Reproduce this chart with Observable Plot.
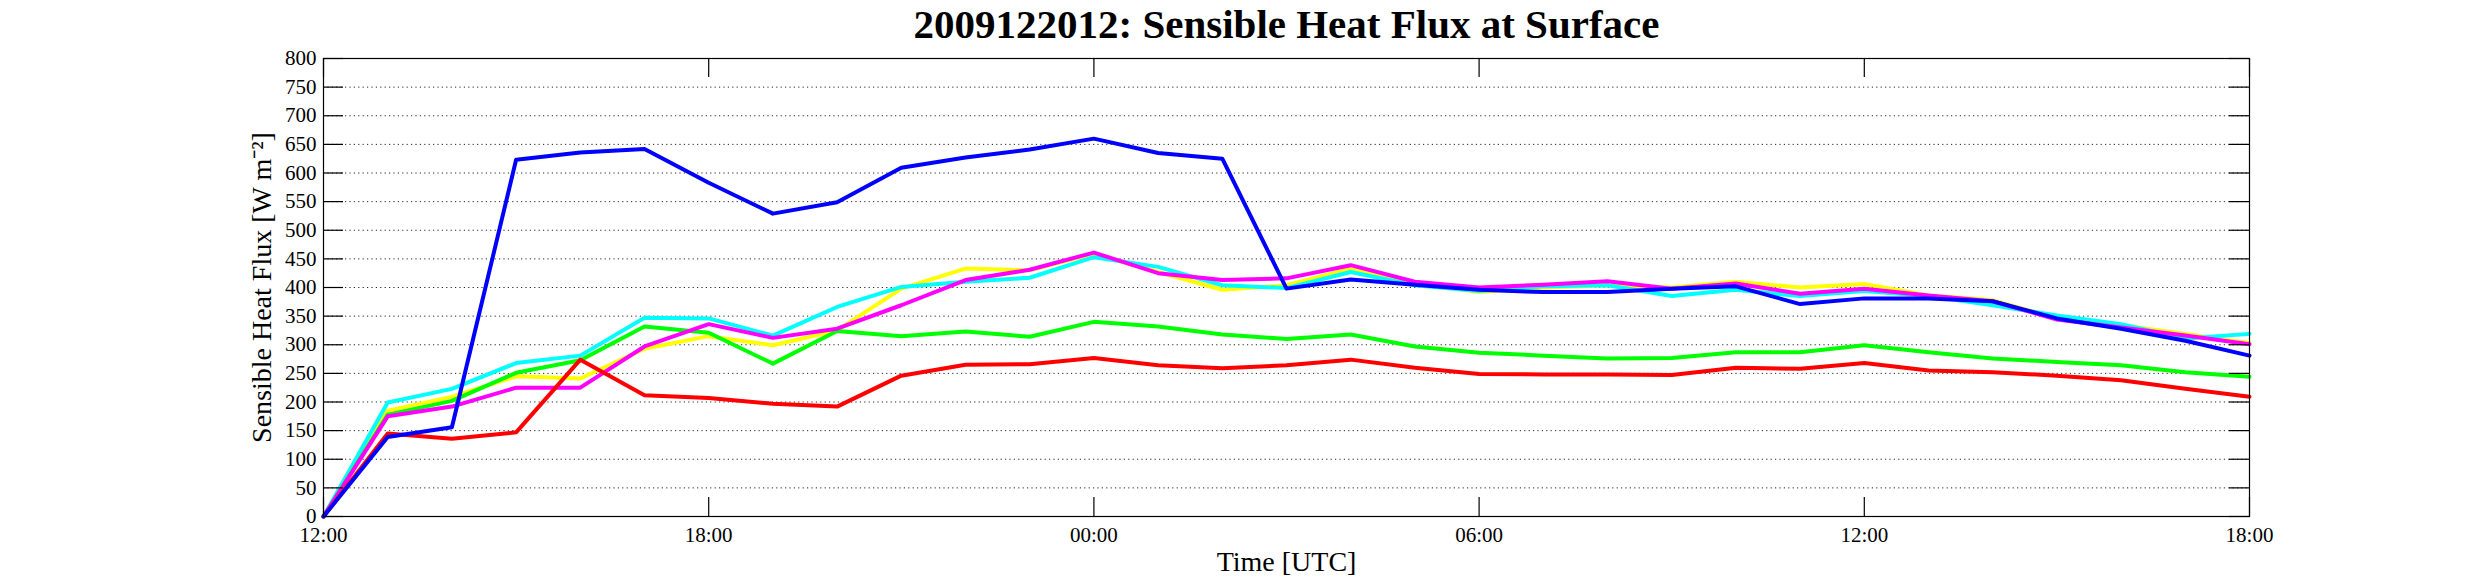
<!DOCTYPE html>
<html>
<head>
<meta charset="utf-8">
<script src="https://cdn.jsdelivr.net/npm/d3@7"></script>
<script src="https://cdn.jsdelivr.net/npm/@observablehq/plot@0.6"></script>
<style>
html, body { margin: 0; padding: 0; background: #fff; }
#chart svg { display: block; }
</style>
</head>
<body>
<div id="chart"></div>
<script>
// ---- data ----
const titleText = "2009122012: Sensible Heat Flux at Surface";
const xLabel = "Time [UTC]";
const yLabel = "Sensible Heat Flux [W m⁻²]";

const times = [
  "2009-12-20T12:00Z","2009-12-20T13:00Z","2009-12-20T14:00Z","2009-12-20T15:00Z",
  "2009-12-20T16:00Z","2009-12-20T17:00Z","2009-12-20T18:00Z","2009-12-20T19:00Z",
  "2009-12-20T20:00Z","2009-12-20T21:00Z","2009-12-20T22:00Z","2009-12-20T23:00Z",
  "2009-12-21T00:00Z","2009-12-21T01:00Z","2009-12-21T02:00Z","2009-12-21T03:00Z",
  "2009-12-21T04:00Z","2009-12-21T05:00Z","2009-12-21T06:00Z","2009-12-21T07:00Z",
  "2009-12-21T08:00Z","2009-12-21T09:00Z","2009-12-21T10:00Z","2009-12-21T11:00Z",
  "2009-12-21T12:00Z","2009-12-21T13:00Z","2009-12-21T14:00Z","2009-12-21T15:00Z",
  "2009-12-21T16:00Z","2009-12-21T17:00Z","2009-12-21T18:00Z"
];
const xTickTimes = [
  "2009-12-20T12:00Z","2009-12-20T18:00Z","2009-12-21T00:00Z",
  "2009-12-21T06:00Z","2009-12-21T12:00Z","2009-12-21T18:00Z"
];
const yTicks = [0,50,100,150,200,250,300,350,400,450,500,550,600,650,700,750,800];

const yellowVals  = [0,185,209,245,241,293,315,299,325,398,433,430,459,427,396,404,433,407,392,400,404,400,410,400,406,386,378,346,334,319,303];
const cyanVals    = [0,199,223,268,281,347,346,316,366,401,410,417,453,436,404,399,427,404,394,402,404,385,396,385,394,385,369,351,336,311,319];
const greenVals   = [0,178,202,251,273,332,321,267,324,315,323,314,340,332,318,310,318,297,286,281,276,277,287,287,299,287,276,270,264,252,244];
const magentaVals = [0,175,192,225,225,297,336,312,328,369,413,431,461,425,413,416,439,410,400,405,411,398,407,389,398,386,376,344,330,316,301];
const redVals     = [0,145,136,147,274,212,207,197,192,246,265,266,277,264,259,264,274,260,249,248,248,247,260,258,268,255,252,246,238,223,209];
const blueVals    = [0,139,156,623,636,642,583,529,549,609,627,641,660,635,625,398,414,405,396,392,392,398,402,371,381,381,376,346,328,307,281];

const seriesNames  = ["yellow","cyan","green","magenta","red","blue"];
const seriesColors = ["#ffff00","#00ffff","#00ff00","#ff00ff","#ff0000","#0000ff"];
const seriesValues = [yellowVals, cyanVals, greenVals, magentaVals, redVals, blueVals];

// ---- layout ----
const W = 2485, H = 584;
const mTop = 58, mBottom = 68, mLeft = 323, mRight = 236;
const frameW = W - mLeft - mRight;
const frameH = H - mTop - mBottom;
const xTickLen = 19, yTickLen = 20;

// ---- build table ----
const timeDates = times.map(t => new Date(t));
const xTicks = xTickTimes.map(t => new Date(t));
const lineMarks = seriesNames.map((name, k) =>
  Plot.line(
    seriesValues[k].map((v, i) => ({t: timeDates[i], v, name})),
    {x: "t", y: "v", stroke: seriesColors[k], strokeWidth: 4, strokeLinejoin: "round"}
  )
);

const fmt = d3.utcFormat("%H:%M");

const chart = Plot.plot({
  width: W,
  height: H,
  marginTop: mTop,
  marginBottom: mBottom,
  marginLeft: mLeft,
  marginRight: mRight,
  style: {
    fontFamily: "'Liberation Serif', 'Times New Roman', serif",
    background: "#fff",
    color: "#000"
  },
  x: {type: "utc", domain: [timeDates[0], timeDates[timeDates.length - 1]], label: null},
  y: {domain: [0, 800], label: null},
  marks: [
    Plot.gridY(yTicks, {stroke: "#000", strokeOpacity: 0.85, strokeWidth: 1, strokeDasharray: "1.2,3.2"}),
    ...lineMarks,
    Plot.frame({stroke: "#000", strokeWidth: 1.2}),
    // inward tick marks on all four sides
    Plot.tickY(yTicks, {y: d => d, stroke: "#000", strokeWidth: 1.2, insetRight: frameW - yTickLen}),
    Plot.tickY(yTicks, {y: d => d, stroke: "#000", strokeWidth: 1.2, insetLeft: frameW - yTickLen}),
    Plot.tickX(xTicks, {x: d => d, stroke: "#000", strokeWidth: 1.2, insetTop: frameH - xTickLen}),
    Plot.tickX(xTicks, {x: d => d, stroke: "#000", strokeWidth: 1.2, insetBottom: frameH - xTickLen}),
    // tick labels
    Plot.axisY(yTicks, {anchor: "left", tickSize: 0, tickPadding: 7, fontSize: 21, label: null}),
    Plot.axisX(xTicks, {anchor: "bottom", tickSize: 0, tickPadding: 11, fontSize: 21, tickFormat: fmt, label: null}),
    // title and axis titles
    Plot.text([titleText], {text: d => d, frameAnchor: "top", dy: -21, lineAnchor: "bottom", fontSize: 41, fontWeight: "bold"}),
    Plot.text([xLabel], {text: d => d, frameAnchor: "bottom", dy: 54, lineAnchor: "bottom", fontSize: 28}),
    Plot.text([yLabel], {text: d => d, frameAnchor: "left", dx: -53, rotate: -90, textAnchor: "middle", lineAnchor: "bottom", fontSize: 28})
  ]
});

document.getElementById("chart").appendChild(chart);
</script>
</body>
</html>
